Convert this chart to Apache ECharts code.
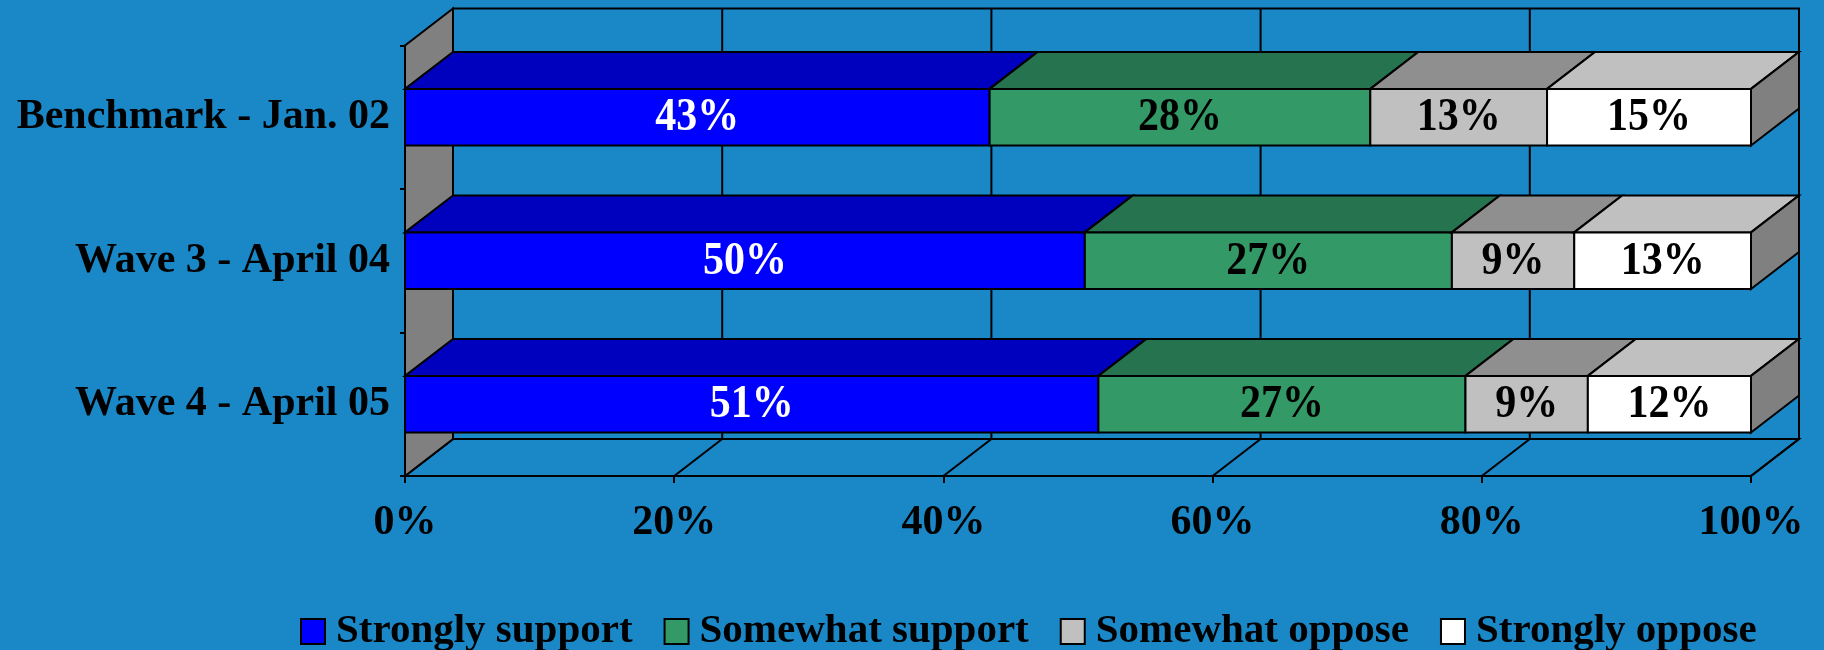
<!DOCTYPE html>
<html>
<head>
<meta charset="utf-8">
<script src="https://cdn.jsdelivr.net/npm/echarts@6/dist/echarts.min.js"></script>
<style>
  html, body { margin: 0; padding: 0; background: #1A87C6; }
  #chart { width: 1824px; height: 650px; }
</style>
</head>
<body>
<div id="chart"></div>
<script>
// Survey waves (top to bottom)
const categories = ['Benchmark - Jan. 02', 'Wave 3 - April 04', 'Wave 4 - April 05'];

// Percent answering each option, per wave
const stronglySupport = [43, 50, 51];
const somewhatSupport = [28, 27, 27];
const somewhatOppose = [13, 9, 9];
const stronglyOppose = [15, 13, 12];

// Value-axis ticks (percent of total)
const xTicks = [0, 20, 40, 60, 80, 100];

const FONT = '"Liberation Serif", "Times New Roman", serif';
const DEPTH_X = 48;      // 3D depth offset, pixels to the right
const DEPTH_Y = 37;      // 3D depth offset, pixels upward
const BAR_RATIO = 0.395; // bar thickness as share of the category band

const groups = [
  { name: 'Strongly support', values: stronglySupport, front: '#0000FF', top: '#0000BF', label: '#FFFFFF' },
  { name: 'Somewhat support', values: somewhatSupport, front: '#339966', top: '#267350', label: '#000000' },
  { name: 'Somewhat oppose',  values: somewhatOppose,  front: '#C0C0C0', top: '#8F8F8F', label: '#000000' },
  { name: 'Strongly oppose',  values: stronglyOppose,  front: '#FFFFFF', top: '#C0C0C0', label: '#000000' }
];

// 100% stacking: each row is normalised by its own total
const totals = categories.map((_, i) => groups.reduce((s, g) => s + g.values[i], 0));
const cumulative = categories.map(() => 0);
const stackedData = groups.map(g => g.values.map((v, i) => {
  const start = cumulative[i] / totals[i] * 100;
  cumulative[i] += v;
  const end = cumulative[i] / totals[i] * 100;
  return [start, end, i, v];
}));

const edge = { stroke: '#000', lineWidth: 2, lineJoin: 'miter' };

function renderFrame(params, api) {
  const cs = params.coordSys;
  const xL = cs.x, xR = cs.x + cs.width, yT = cs.y, yB = cs.y + cs.height;
  const children = [];
  // back wall
  children.push({ type: 'rect', shape: { x: xL + DEPTH_X, y: yT - DEPTH_Y, width: xR - xL, height: yB - yT },
    style: Object.assign({ fill: 'none' }, edge) });
  // floor
  children.push({ type: 'polygon', shape: { points: [[xL, yB], [xL + DEPTH_X, yB - DEPTH_Y], [xR + DEPTH_X, yB - DEPTH_Y], [xR, yB]] },
    style: Object.assign({ fill: 'none' }, edge) });
  xTicks.forEach(t => {
    const x = api.coord([t, 0])[0];
    if (t > 0 && t < 100) {
      children.push({ type: 'line', shape: { x1: x + DEPTH_X, y1: yT - DEPTH_Y, x2: x + DEPTH_X, y2: yB - DEPTH_Y },
        style: { stroke: '#000', lineWidth: 2 } });
    }
    children.push({ type: 'line', shape: { x1: x, y1: yB, x2: x + DEPTH_X, y2: yB - DEPTH_Y },
      style: { stroke: '#000', lineWidth: 2 } });
  });
  // side wall
  children.push({ type: 'polygon', shape: { points: [[xL, yT], [xL + DEPTH_X, yT - DEPTH_Y], [xL + DEPTH_X, yB - DEPTH_Y], [xL, yB]] },
    style: Object.assign({ fill: '#808080' }, edge) });
  return { type: 'group', children };
}

function makeSegmentRenderer(g, isLast) {
  return function (params, api) {
    const start = api.value(0), end = api.value(1), cat = api.value(2), raw = api.value(3);
    const p0 = api.coord([start, cat]);
    const p1 = api.coord([end, cat]);
    const h = api.size([0, 1])[1] * BAR_RATIO;
    const x0 = p0[0], x1 = p1[0];
    const yTop = p0[1] - h / 2, yBot = p0[1] + h / 2;
    const children = [
      { type: 'polygon', shape: { points: [[x0, yTop], [x0 + DEPTH_X, yTop - DEPTH_Y], [x1 + DEPTH_X, yTop - DEPTH_Y], [x1, yTop]] },
        style: Object.assign({ fill: g.top }, edge) },
      { type: 'rect', shape: { x: x0, y: yTop, width: x1 - x0, height: h },
        style: Object.assign({ fill: g.front }, edge) }
    ];
    if (isLast) {
      children.push({ type: 'polygon', shape: { points: [[x1, yTop], [x1 + DEPTH_X, yTop - DEPTH_Y], [x1 + DEPTH_X, yBot - DEPTH_Y], [x1, yBot]] },
        style: Object.assign({ fill: '#808080' }, edge) });
    }
    children.push({ type: 'text', x: (x0 + x1) / 2, y: p0[1] + 1, scaleY: 1.1,
      style: { text: raw + '%', fill: g.label, fontFamily: FONT, fontWeight: 'bold', fontSize: 42,
               align: 'center', verticalAlign: 'middle' } });
    return { type: 'group', children };
  };
}

const chart = echarts.init(document.getElementById('chart'), null, { renderer: 'canvas' });

const series = [{
  name: 'frame', type: 'custom', z: 1, silent: true,
  renderItem: renderFrame, data: [[0, 0]], encode: { x: 0, y: 1 }
}].concat(groups.map((g, k) => ({
  name: g.name, type: 'custom', z: 2,
  itemStyle: { color: g.front },
  renderItem: makeSegmentRenderer(g, k === groups.length - 1),
  data: stackedData[k],
  encode: { x: [0, 1], y: 2 }
})));

chart.setOption({
  animation: false,
  backgroundColor: '#1A87C6',
  grid: { left: 405, right: 73, top: 45.5, bottom: 174, outerBoundsMode: 'none' },
  xAxis: {
    type: 'value', min: 0, max: 100, interval: 20,
    axisLine: { show: true, lineStyle: { color: '#000', width: 2 } },
    axisTick: { show: true, length: 7, lineStyle: { color: '#000', width: 2 } },
    splitLine: { show: false },
    axisLabel: { formatter: '{value}%', margin: 26, color: '#000', fontFamily: FONT, fontWeight: 'bold', fontSize: 42 }
  },
  yAxis: {
    type: 'category', data: categories, inverse: true,
    axisLine: { show: true, lineStyle: { color: '#000', width: 2 } },
    axisTick: { show: true, length: 5, lineStyle: { color: '#000', width: 2 } },
    splitLine: { show: false },
    axisLabel: { margin: 15, color: '#000', fontFamily: FONT, fontWeight: 'bold', fontSize: 42 }
  },
  legend: {
    data: groups.map(g => g.name),
    left: 295, top: 606,
    icon: 'rect', itemWidth: 24, itemHeight: 25, itemGap: 31,
    itemStyle: { borderColor: '#000', borderWidth: 2 },
    textStyle: { color: '#000', fontFamily: FONT, fontWeight: 'bold', fontSize: 41, padding: [0, 0, 0, 6] }
  },
  series
});
</script>
</body>
</html>
